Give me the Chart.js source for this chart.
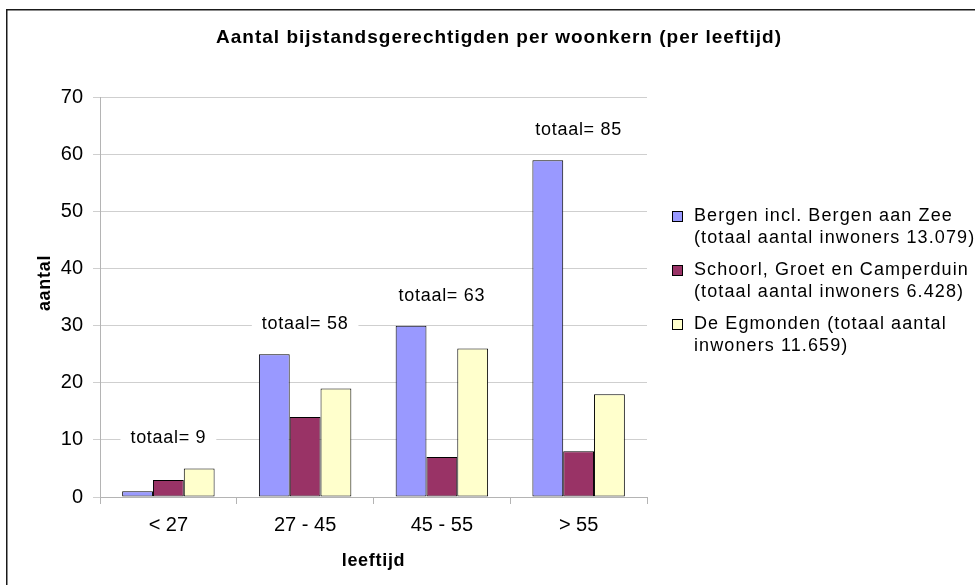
<!DOCTYPE html>
<html><head><meta charset="utf-8">
<script src="https://cdn.jsdelivr.net/npm/chart.js@4.4.1/dist/chart.umd.min.js"></script>
<style>html,body{margin:0;padding:0;background:#fff;}canvas{display:block;}</style>
</head><body>
<canvas id="c" width="975" height="585"></canvas>
<script>
const FONT = "'Liberation Sans', Arial, Helvetica, sans-serif";
const chartTitle = 'Aantal bijstandsgerechtigden per woonkern (per leeftijd)';
const xAxisTitle = 'leeftijd';
const yAxisTitle = 'aantal';
const categories = ['< 27', '27 - 45', '45 - 55', '> 55'];
const seriesLabels = [
  ['Bergen incl. Bergen aan Zee', '(totaal aantal inwoners 13.079)'],
  ['Schoorl, Groet en Camperduin', '(totaal aantal inwoners 6.428)'],
  ['De Egmonden (totaal aantal', 'inwoners 11.659)']
];
const bergen = [1, 25, 30, 59];
const schoorl = [3, 14, 7, 8];
const egmonden = [5, 19, 26, 18];
const totals = [9, 58, 63, 85];
const totalPrefix = 'totaal= ';
const yMin = 0, yMax = 70, yStep = 10;
const seriesColors = ['#9999ff', '#993366', '#ffffcc'];

const decor = {
  id: 'decor',
  beforeDraw(chart) {
    const ctx = chart.ctx;
    ctx.save();
    ctx.fillStyle = '#fff';
    ctx.fillRect(0, 0, chart.width, chart.height);
    ctx.strokeStyle = '#1a1a1a';
    ctx.lineWidth = 1.5;
    ctx.strokeRect(6.75, 9.75, 1400, 1400);
    ctx.restore();
  },
  afterDatasetsDraw(chart) {
    const ctx = chart.ctx;
    const x = chart.scales.x, y = chart.scales.y;
    ctx.save();
    ctx.font = '18px ' + FONT;
    ctx.letterSpacing = '0.7px';
    ctx.textAlign = 'center';
    ctx.textBaseline = 'middle';
    categories.forEach((c, i) => {
      const top = Math.max(bergen[i], schoorl[i], egmonden[i]);
      const cx = x.getPixelForValue(i);
      const cy = y.getPixelForValue(top) - 30;
      const text = totalPrefix + totals[i];
      const w = ctx.measureText(text).width;
      ctx.fillStyle = '#fff';
      ctx.fillRect(cx - w / 2 - 10, cy - 11, w + 20, 22);
      ctx.fillStyle = '#000';
      ctx.fillText(text, cx, cy);
    });
    ctx.restore();
  },
  afterDraw(chart) {
    const ctx = chart.ctx;
    const area = chart.chartArea;
    ctx.save();
    ctx.fillStyle = '#000';
    ctx.textBaseline = 'middle';
    // title
    ctx.font = 'bold 19px ' + FONT;
    ctx.letterSpacing = '1.0px';
    ctx.textAlign = 'center';
    ctx.fillText(chartTitle, 499, 38);
    // x axis title
    ctx.font = 'bold 18px ' + FONT;
    ctx.letterSpacing = '0.7px';
    ctx.fillText(xAxisTitle, (area.left + area.right) / 2, 561);
    // y axis title
    ctx.save();
    ctx.translate(45, 283);
    ctx.rotate(-Math.PI / 2);
    ctx.font = 'bold 18px ' + FONT;
    ctx.letterSpacing = '0.7px';
    ctx.fillText(yAxisTitle, 0, 0);
    ctx.restore();
    // legend
    ctx.font = '18px ' + FONT;
    ctx.letterSpacing = '1.1px';
    ctx.textAlign = 'left';
    const lx = 672, tx = 694, ly0 = 216, lineGap = 22.5, entryGap = 54;
    seriesLabels.forEach((lines, i) => {
      const ly = ly0 + i * entryGap;
      ctx.fillStyle = seriesColors[i];
      ctx.fillRect(lx, ly - 5, 10, 10);
      ctx.strokeStyle = '#000';
      ctx.lineWidth = 1;
      ctx.strokeRect(lx + 0.5, ly - 4.5, 10, 10);
      ctx.fillStyle = '#000';
      lines.forEach((t, j) => ctx.fillText(t, tx, ly + j * lineGap));
    });
    ctx.restore();
  }
};

const mk = (label, data, color) => ({
  label, data,
  backgroundColor: color,
  borderColor: '#000',
  borderWidth: 1,
  borderSkipped: false,
  categoryPercentage: 0.676,
  barPercentage: 1.0
});

new Chart(document.getElementById('c'), {
  type: 'bar',
  data: {
    labels: categories,
    datasets: [
      mk(seriesLabels[0].join(' '), bergen, seriesColors[0]),
      mk(seriesLabels[1].join(' '), schoorl, seriesColors[1]),
      mk(seriesLabels[2].join(' '), egmonden, seriesColors[2])
    ]
  },
  options: {
    responsive: false,
    animation: false,
    devicePixelRatio: 1,
    layout: { padding: { top: 97.5, right: 328, bottom: 0, left: 0 } },
    plugins: { legend: { display: false }, title: { display: false }, tooltip: { enabled: false } },
    scales: {
      x: {
        grid: { display: true, drawOnChartArea: false, drawTicks: true, tickLength: 7, color: '#b4b4b4', offset: true },
        border: { display: true, color: '#b4b4b4' },
        ticks: { color: '#000', font: { family: FONT, size: 20 }, padding: 9 },
        afterFit: s => { s.height = 88; }
      },
      y: {
        min: yMin, max: yMax,
        ticks: { stepSize: yStep, color: '#000', font: { family: FONT, size: 20 }, padding: 10 },
        grid: { color: '#cfcfcf', tickLength: 7 },
        border: { display: true, color: '#b4b4b4' },
        afterFit: s => { s.width = 100; }
      }
    }
  },
  plugins: [decor]
});
</script>
</body></html>
